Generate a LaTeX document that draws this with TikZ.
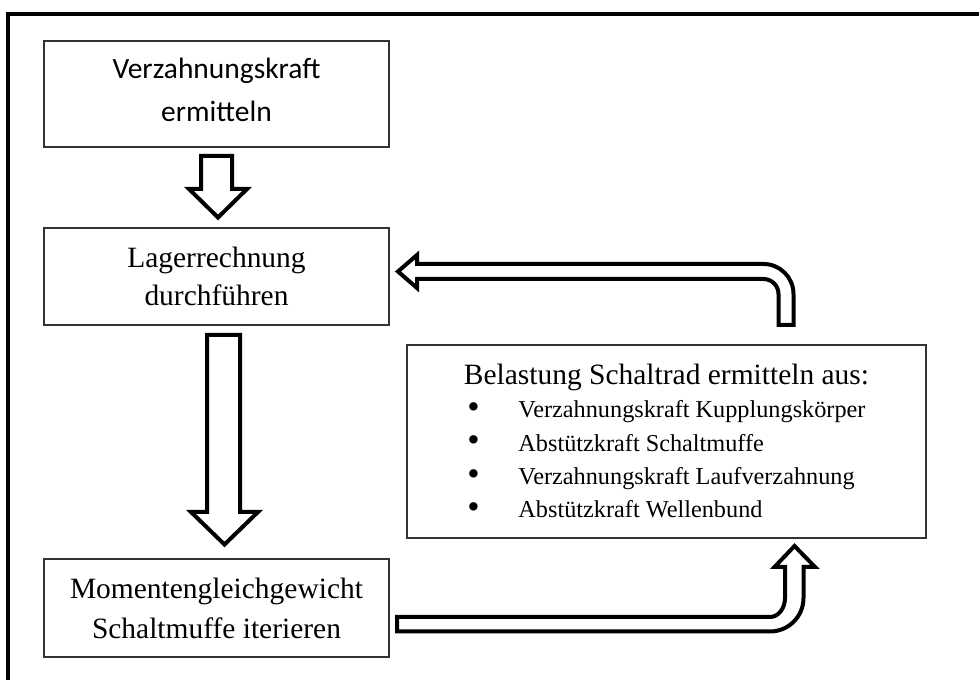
\documentclass[tikz,border=0pt]{standalone}
\usepackage{fontspec}
\usepackage{graphicx}
\setmainfont{Liberation Serif}
\newfontfamily\calibrifont{Carlito}
\newcommand{\listdot}{\raisebox{-0.5pt}{\scalebox{1.45}{\textbullet}}}
\begin{document}
\begin{tikzpicture}[x=0.75pt,y=0.75pt,yscale=-1,xscale=1,
        box/.style={draw=black!80, line width=0.9pt, inner sep=0pt, align=center},
        hollow/.style={draw=black, line width=3pt, line join=miter, fill=white}]
        \useasboundingbox (0,0) rectangle (979,680);
        
        %Frame
        \draw [line width=3pt]  (8,680) -- (8,14) -- (979,14) ;
        
        % Text Node
        \node [box, minimum width=258.75pt, minimum height=79.5pt, font=\calibrifont\fontsize{22.1}{32.25}\selectfont] (verz) at (216.5,94) {Verzahnungskraft\\ermitteln\rule[-6pt]{0pt}{6pt}};
        % Text Node
        \node [box, minimum width=258.75pt, minimum height=72.75pt, font=\fontsize{22.1}{28.5}\selectfont] (lager) at (216.5,276.5) {Lagerrechnung\\durchführen};
        % Text Node
        \node [box, minimum width=258.75pt, minimum height=73.5pt, font=\fontsize{22.1}{30}\selectfont] (moment) at (216.5,608) {Momentengleichgewicht\\Schaltmuffe iterieren};
        % Text Node
        \node [box, minimum width=389.25pt, minimum height=144.75pt, font=\fontsize{22.1}{26}\selectfont] (belast) at (666.5,441.5) {\begin{tabular}{@{}c@{}}
            \noalign{\vskip3.4pt}
            Belastung Schaltrad ermitteln aus:\\[0pt]
            \fontsize{18.2}{25}\selectfont
            \begin{tabular}{@{}l@{\hspace{29pt}}l@{}}
              \listdot & Verzahnungskraft Kupplungskörper\\
              \listdot & Abstützkraft Schaltmuffe\\
              \listdot & Verzahnungskraft Laufverzahnung\\
              \listdot & Abstützkraft Wellenbund
            \end{tabular}
          \end{tabular}};
        
        %Shape: Down Arrow [verz -> lager]
        \draw [hollow]  (201,156) -- (201,189) -- (189,189) -- (218,217.5) -- (247,189) -- (232,189) -- (232,156) -- cycle ;
        %Shape: Down Arrow [lager -> moment]
        \draw [hollow]  (207,335) -- (207,512) -- (191,512) -- (224.5,544.5) -- (258,512) -- (240,512) -- (240,335) -- cycle ;
        %Shape: U-Turn Arrow [belast -> lager]
        \draw [hollow]  (417,264) -- (763.5,264) .. controls (780.07,264) and (793.5,277.43) .. (793.5,294) -- (793.5,325) -- (778.5,325) -- (778.5,294) .. controls (778.5,285.72) and (771.78,279) .. (763.5,279) -- (417,279) -- (417,288) -- (398,271.5) -- (417,255) -- cycle ;
        %Shape: U-Turn Arrow [moment -> belast]
        \draw [hollow]  (397,617) -- (770,617) .. controls (778.3,617) and (785,608.5) .. (785,598) -- (785,567) -- (774.5,567) -- (794.5,546) -- (815,567) -- (803.5,567) -- (803.5,598) .. controls (803.5,616.5) and (788.5,631.5) .. (770,631.5) -- (397,631.5) -- cycle ;
        
\end{tikzpicture}
\end{document}
